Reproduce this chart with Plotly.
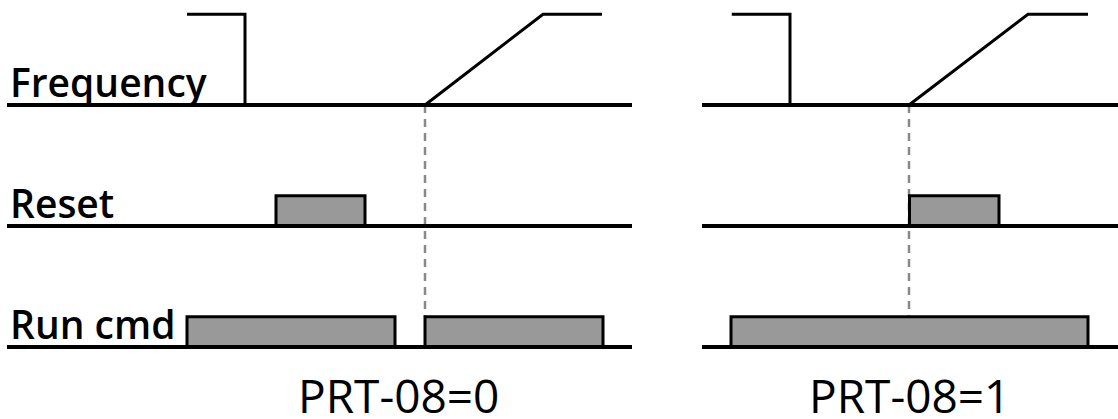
import plotly.graph_objects as go

# ---------------- data (time units, signal levels) ----------------
panel_titles = ["PRT-08=0", "PRT-08=1"]
signal_names = ["Frequency", "Reset", "Run cmd"]

# panel extents (time)
left_span = [0.0, 25.0]
right_span = [0.0, 16.64]

# Frequency waveform: level 0..1 (1 = running frequency)
freq_left_stop_t = [7.2, 9.52, 9.52]
freq_left_stop_v = [1, 1, 0]
freq_left_ramp_t = [16.72, 21.44, 23.8]
freq_left_ramp_v = [0, 1, 1]

freq_right_stop_t = [1.19, 3.52, 3.52]
freq_right_stop_v = [1, 1, 0]
freq_right_ramp_t = [8.28, 13.04, 15.44]
freq_right_ramp_v = [0, 1, 1]

# Reset pulses (start, end)
reset_left = [(10.76, 14.32)]
reset_right = [(8.30, 11.88)]

# Run command pulses (start, end)
run_left = [(7.2, 15.52), (16.72, 23.84)]
run_right = [(1.16, 15.44)]

# restart instant (dashed marker)
restart_left = 16.72
restart_right = 8.28

# title positions (time)
title_left_t = 15.66
title_right_t = 8.28

# ---------------- layout constants ----------------
ROW = {"Frequency": 8.0, "Reset": 4.0, "Run cmd": 0.0}
FREQ_H = 3.0
PULSE_H = 1.0
W, H = 1118, 419
BLACK = "#000000"
GRAY_FILL = "#999999"
DASH_GRAY = "#8a8a8a"
FONT = "Open Sans"

fig = go.Figure()


def add_line(xs, ys, axis, width=3, color=BLACK, dash=None):
    fig.add_trace(go.Scatter(
        x=xs, y=ys, mode="lines", xaxis=axis, yaxis="y",
        line=dict(color=color, width=width, dash=dash),
        hoverinfo="skip", showlegend=False))


def add_pulse(t0, t1, base, axis):
    fig.add_trace(go.Scatter(
        x=[t0, t0, t1, t1, t0], y=[base, base + PULSE_H, base + PULSE_H, base, base],
        mode="lines", fill="toself", fillcolor=GRAY_FILL, xaxis=axis, yaxis="y",
        line=dict(color=BLACK, width=3), hoverinfo="skip", showlegend=False))


for axis, span, stop_t, stop_v, ramp_t, ramp_v, resets, runs, rst in [
    ("x", left_span, freq_left_stop_t, freq_left_stop_v, freq_left_ramp_t,
     freq_left_ramp_v, reset_left, run_left, restart_left),
    ("x2", right_span, freq_right_stop_t, freq_right_stop_v, freq_right_ramp_t,
     freq_right_ramp_v, reset_right, run_right, restart_right),
]:
    # dashed restart marker
    add_line([rst, rst], [ROW["Frequency"], ROW["Run cmd"] + PULSE_H], axis,
             width=2.5, color=DASH_GRAY, dash="8px,6px")
    # pulses
    for t0, t1 in resets:
        add_pulse(t0, t1, ROW["Reset"], axis)
    for t0, t1 in runs:
        add_pulse(t0, t1, ROW["Run cmd"], axis)
    # frequency
    fb = ROW["Frequency"]
    add_line(stop_t, [fb + v * FREQ_H for v in stop_v], axis)
    add_line(ramp_t, [fb + v * FREQ_H for v in ramp_v], axis)
    # baselines
    for name in signal_names:
        add_line(span, [ROW[name], ROW[name]], axis, width=4)

# y mapping: 30.25 px per unit, run baseline at pixel 347
ppu = 30.25
y_top = 347 / ppu
y_bot = -(H - 347) / ppu

fig.update_layout(
    width=W, height=H,
    margin=dict(l=0, r=0, t=0, b=0),
    paper_bgcolor="white", plot_bgcolor="white",
    showlegend=False,
    xaxis=dict(domain=[7 / W, 632 / W], range=left_span, visible=False, fixedrange=True),
    xaxis2=dict(domain=[702 / W, 1.0], range=right_span, visible=False, fixedrange=True,
                anchor="y"),
    yaxis=dict(domain=[0, 1], range=[y_bot, y_top], visible=False, fixedrange=True),
)

# signal labels
for name in signal_names:
    fig.add_annotation(
        x=8 / W, xref="paper", y=ROW[name] + 0.78, yref="y",
        text=name, showarrow=False, xanchor="left", yanchor="middle",
        font=dict(family=FONT, size=39, color=BLACK, weight=600))

# panel titles
for axis, t, title in [("x", title_left_t, panel_titles[0]), ("x2", title_right_t, panel_titles[1])]:
    fig.add_annotation(
        x=t, xref=axis, y=(347 - 395) / ppu, yref="y",
        text=title, showarrow=False, xanchor="center", yanchor="middle",
        font=dict(family=FONT, size=46, color=BLACK, weight=500))

fig.write_html("out.html", config={"displayModeBar": False},
               post_script="document.body.style.margin='0';document.body.style.overflow='hidden';")
